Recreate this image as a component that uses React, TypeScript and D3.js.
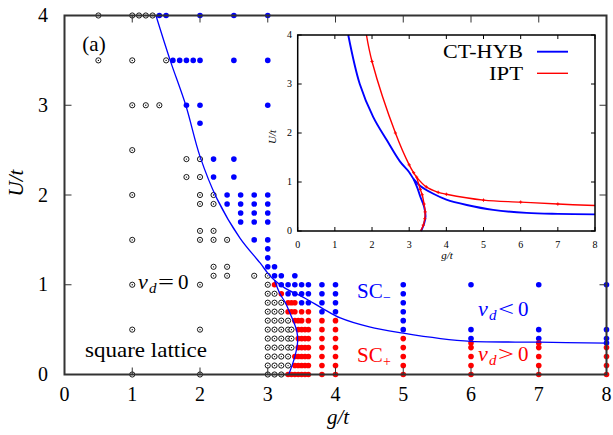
import * as d3 from "d3";
import { useEffect, useRef } from "react";

type Pt = [number, number];

const xTicks = [0, 1, 2, 3, 4, 5, 6, 7, 8];
const yTicks = [0, 1, 2, 3, 4];

// nu_d = 0 (open circles)
const zeroPts: Pt[] = [
    [0.5, 4], [1, 4], [1.1, 4], [1.2, 4], [1.3, 4],
    [0.5, 3.5], [1, 3.5], [1.5, 3.5],
    [1, 3], [1.2, 3], [1.4, 3],
    [1, 2.5],
    [1.8, 2.4], [2, 2.4], [1.8, 2.2], [2, 2.2],
    [1, 2], [2, 2], [2.2, 2], [2, 1.9], [2.2, 1.9],
    [2, 1.6], [2.2, 1.6],
    [1, 1.5], [2, 1.5], [2.2, 1.5], [2.4, 1.5],
    [2.2, 1.2], [2.4, 1.2],
    [2.2, 1.1], [2.4, 1.1], [2.8, 1.1], [3, 1.1],
    [1, 1], [2, 1], [3, 1],
    [3, 0.9], [3.1, 0.9],
    [3, 0.8], [3.1, 0.8], [3.2, 0.8],
    [3, 0.7], [3.1, 0.7], [3.2, 0.7],
    [3, 0.6], [3.1, 0.6], [3.2, 0.6], [3.3, 0.6],
    [1, 0.5], [2, 0.5], [3, 0.5], [3.1, 0.5], [3.2, 0.5], [3.3, 0.5], [3.35, 0.5],
    [3, 0.4], [3.1, 0.4], [3.2, 0.4], [3.3, 0.4], [3.35, 0.4],
    [3, 0.3], [3.1, 0.3], [3.2, 0.3], [3.3, 0.3], [3.35, 0.3],
    [3, 0.2], [3.1, 0.2], [3.2, 0.2], [3.3, 0.2],
    [3, 0.1], [3.1, 0.1], [3.2, 0.1], [3.3, 0.1],
    [1, 0], [2, 0], [3, 0], [3.1, 0], [3.2, 0]
];

// nu_d < 0 (blue)
const negPts: Pt[] = [
    [1.4, 4], [1.5, 4], [2, 4], [2.5, 4], [3, 4],
    [1.6, 3.5], [1.7, 3.5], [1.8, 3.5], [1.9, 3.5], [2, 3.5], [2.5, 3.5], [3, 3.5],
    [1.8, 3], [2, 3], [3, 3],
    [2, 2.8],
    [2.2, 2.4], [2.5, 2.4], [2.2, 2.2], [2.5, 2.2],
    [2.4, 2], [2.6, 2], [2.8, 2], [3, 2],
    [2.4, 1.9], [2.6, 1.9], [2.8, 1.9], [3, 1.9],
    [2.6, 1.8], [2.8, 1.8], [3, 1.8],
    [2.6, 1.7], [2.8, 1.7], [3, 1.7],
    [2.8, 1.5], [3, 1.5], [3, 1.4], [3, 1.3],
    [3, 1.2], [3.1, 1.2],
    [3.1, 1.1], [3.2, 1.1], [3.4, 1.1],
    [3.2, 1], [3.3, 1], [3.4, 1], [3.5, 1], [3.6, 1], [3.8, 1], [4, 1], [5, 1], [6, 1], [7, 1], [8, 1],
    [3.3, 0.9], [3.4, 0.9], [3.5, 0.9], [3.6, 0.9], [3.8, 0.9], [4, 0.9], [5, 0.9],
    [3.5, 0.8], [3.6, 0.8], [3.8, 0.8], [4, 0.8], [5, 0.8],
    [3.8, 0.7], [4, 0.7], [5, 0.7],
    [5, 0.6],
    [5, 0.5], [6, 0.5], [7, 0.5], [8, 0.5],
    [6, 0.4], [7, 0.4], [8, 0.4],
    [8, 0.35]
];

// nu_d > 0 (red)
const posPts: Pt[] = [
    [3.1, 1],
    [3.2, 0.9],
    [3.3, 0.8], [3.35, 0.8], [3.4, 0.8],
    [3.3, 0.7], [3.35, 0.7], [3.4, 0.7], [3.5, 0.7], [3.6, 0.7],
    [3.4, 0.6], [3.45, 0.6], [3.5, 0.6], [3.6, 0.6], [3.8, 0.6], [4, 0.6],
    [3.45, 0.5], [3.5, 0.5], [3.55, 0.5], [3.6, 0.5], [3.8, 0.5], [4, 0.5],
    [3.45, 0.4], [3.5, 0.4], [3.55, 0.4], [3.6, 0.4], [3.8, 0.4], [4, 0.4], [5, 0.4],
    [6, 0.35], [7, 0.35],
    [3.45, 0.3], [3.5, 0.3], [3.55, 0.3], [3.6, 0.3], [3.8, 0.3], [4, 0.3], [5, 0.3], [6, 0.3], [7, 0.3], [8, 0.3],
    [3.4, 0.2], [3.45, 0.2], [3.5, 0.2], [3.55, 0.2], [3.6, 0.2], [3.8, 0.2], [4, 0.2], [5, 0.2], [6, 0.2], [7, 0.2], [8, 0.2],
    [3.4, 0.1], [3.45, 0.1], [3.5, 0.1], [3.55, 0.1], [3.6, 0.1], [3.8, 0.1], [4, 0.1], [5, 0.1], [6, 0.1], [7, 0.1], [8, 0.1],
    [3.3, 0], [3.35, 0], [3.4, 0], [3.45, 0], [3.5, 0], [3.55, 0], [3.6, 0], [3.8, 0], [4, 0], [5, 0], [6, 0], [7, 0], [8, 0]
];

// phase boundary in the main panel
const mainUpper: Pt[] = [
    [1.35, 4], [1.56, 3.5], [1.79, 3.0], [2.0, 2.43], [2.25, 1.96], [2.59, 1.52], [2.89, 1.24],
    [3.0, 1.13], [3.1, 1.05], [3.26, 0.96], [3.55, 0.85], [3.8, 0.74], [4.07, 0.63], [4.5, 0.53],
    [5.0, 0.46], [5.55, 0.4], [6.0, 0.37], [7.0, 0.36], [8.0, 0.35]
];
const mainLower: Pt[] = [
    [3.1, 1.05], [3.18, 0.9], [3.26, 0.8], [3.33, 0.68], [3.43, 0.48], [3.44, 0.36], [3.4, 0.2], [3.31, 0]
];

// inset: CT-HYB
const ctUpper: Pt[] = [
    [1.36, 4], [1.67, 3.0], [2.03, 2.33], [2.4, 1.85], [2.75, 1.42], [3.0, 1.2], [3.12, 1.06],
    [3.3, 0.92], [3.65, 0.76], [4.0, 0.64], [4.55, 0.53], [5.26, 0.43], [6.16, 0.37], [7.0, 0.35], [8.0, 0.34]
];
const ctLower: Pt[] = [
    [3.12, 1.06], [3.22, 0.88], [3.3, 0.7], [3.4, 0.5], [3.44, 0.3], [3.4, 0.15], [3.32, 0]
];

// inset: IPT
const iptUpper: Pt[] = [
    [1.85, 4], [2.0, 3.46], [2.63, 2.0], [3.0, 1.35], [3.12, 1.19], [3.2, 1.1], [3.46, 0.9],
    [3.78, 0.79], [4.0, 0.75], [5.0, 0.63], [6.0, 0.59], [7.0, 0.55], [8.0, 0.52]
];
const iptLower: Pt[] = [
    [3.2, 1.1], [3.3, 0.85], [3.35, 0.74], [3.4, 0.55], [3.43, 0.39], [3.42, 0.25], [3.38, 0.12], [3.31, 0]
];

const W = 613;
const H = 435;
const FONT = "Liberation Serif, Times New Roman, DejaVu Serif, serif";
const BLUE = "#0000ff";
const RED = "#ff0000";

const App = () => {
    const chartRef = useRef<SVGSVGElement>(null);

    useEffect(() => {
        const svg = d3.select(chartRef.current);
        svg.selectAll("*").remove();
        svg.attr("font-family", FONT);

        // main panel scales
        const x = d3.scaleLinear().domain([0, 8]).range([64.5, 606.5]);
        const y = d3.scaleLinear().domain([0, 4]).range([374.5, 15.5]);

        svg.append("rect").attr("width", W).attr("height", H).attr("fill", "#fff");

        // points
        const gz = svg.append("g");
        zeroPts.forEach(d => {
            gz.append("circle")
                .attr("cx", x(d[0])).attr("cy", y(d[1])).attr("r", 2.6)
                .attr("fill", "#fff").attr("stroke", "#000").attr("stroke-width", 0.9);
            gz.append("circle")
                .attr("cx", x(d[0])).attr("cy", y(d[1])).attr("r", 0.65)
                .attr("fill", "#000");
        });

        svg.append("g")
            .selectAll("circle")
            .data(negPts)
            .enter()
            .append("circle")
            .attr("cx", d => x(d[0]))
            .attr("cy", d => y(d[1]))
            .attr("r", 2.8)
            .attr("fill", BLUE);

        svg.append("g")
            .selectAll("circle")
            .data(posPts)
            .enter()
            .append("circle")
            .attr("cx", d => x(d[0]))
            .attr("cy", d => y(d[1]))
            .attr("r", 2.8)
            .attr("fill", RED);

        // boundary curve
        const mainLine = d3.line<Pt>().x(d => x(d[0])).y(d => y(d[1])).curve(d3.curveCatmullRom);
        [mainUpper, mainLower].forEach(arr => {
            svg.append("path")
                .attr("d", mainLine(arr))
                .attr("fill", "none")
                .attr("stroke", BLUE)
                .attr("stroke-width", 1.3);
        });

        // frame and ticks
        const frameColor = "#333";
        svg.append("rect")
            .attr("x", x(0)).attr("y", y(4))
            .attr("width", x(8) - x(0)).attr("height", y(0) - y(4))
            .attr("fill", "none").attr("stroke", frameColor).attr("stroke-width", 2);

        const tl = 7;
        xTicks.forEach(t => {
            svg.append("line").attr("x1", x(t)).attr("x2", x(t)).attr("y1", y(0)).attr("y2", y(0) - tl)
                .attr("stroke", frameColor).attr("stroke-width", 1);
            svg.append("line").attr("x1", x(t)).attr("x2", x(t)).attr("y1", y(4)).attr("y2", y(4) + tl)
                .attr("stroke", frameColor).attr("stroke-width", 1);
            svg.append("text")
                .attr("x", x(t)).attr("y", 401)
                .attr("text-anchor", "middle")
                .attr("font-size", 20)
                .text(t);
        });
        yTicks.forEach(t => {
            svg.append("line").attr("x1", x(0)).attr("x2", x(0) + tl).attr("y1", y(t)).attr("y2", y(t))
                .attr("stroke", frameColor).attr("stroke-width", 1);
            svg.append("line").attr("x1", x(8)).attr("x2", x(8) - tl).attr("y1", y(t)).attr("y2", y(t))
                .attr("stroke", frameColor).attr("stroke-width", 1);
            svg.append("text")
                .attr("x", 48).attr("y", y(t)).attr("dy", "0.33em")
                .attr("text-anchor", "end")
                .attr("font-size", 20)
                .text(t);
        });

        // axis titles
        svg.append("text")
            .attr("x", 338).attr("y", 424)
            .attr("text-anchor", "middle")
            .attr("font-size", 21).attr("font-style", "italic")
            .text("g/t");
        svg.append("text")
            .attr("transform", "translate(23,183) rotate(-90)")
            .attr("text-anchor", "middle")
            .attr("font-size", 21).attr("font-style", "italic")
            .text("U/t");

        // annotations
        const txt = (tx: number, ty: number, s: string, size: number, color = "#000", italic = false, anchor = "start") =>
            svg.append("text")
                .attr("x", tx).attr("y", ty)
                .attr("text-anchor", anchor)
                .attr("fill", color)
                .attr("font-size", size)
                .attr("font-style", italic ? "italic" : "normal")
                .text(s);

        txt(94, 51, "(a)", 21, "#000", false, "middle");
        txt(85, 357, "square lattice", 21).attr("textLength", 122).attr("lengthAdjust", "spacingAndGlyphs");

        const nuLabel = (nx: number, ny: number, op: string, color: string) => {
            txt(nx, ny, "\u03bd", 22, color, true);
            txt(nx + 11, ny + 4, "d", 15, color, true);
            txt(nx + 20, ny, op, 22, color).attr("textLength", 16).attr("lengthAdjust", "spacingAndGlyphs");
            txt(nx + 40, ny, "0", 21, color);
        };
        nuLabel(138, 289, "=", "#000");
        nuLabel(478, 316, "<", BLUE);
        nuLabel(478, 361, ">", RED);

        txt(357, 298, "SC", 21, BLUE);
        txt(383, 302, "\u2212", 14, BLUE);
        txt(357, 362, "SC", 21, RED);
        txt(383, 366, "+", 14, RED);

        // inset
        const ix = d3.scaleLinear().domain([0, 8]).range([297.7, 595]);
        const iy = d3.scaleLinear().domain([0, 4]).range([231, 35]);
        const inset = svg.append("g");

        inset.append("rect")
            .attr("x", ix(0)).attr("y", iy(4))
            .attr("width", ix(8) - ix(0)).attr("height", iy(0) - iy(4))
            .attr("fill", "#fff");

        const insetLine = d3.line<Pt>().x(d => ix(d[0])).y(d => iy(d[1])).curve(d3.curveCatmullRom);
        [ctUpper, ctLower].forEach(arr => {
            inset.append("path")
                .attr("d", insetLine(arr))
                .attr("fill", "none").attr("stroke", BLUE).attr("stroke-width", 1.9);
        });
        [iptUpper, iptLower].forEach(arr => {
            inset.append("path")
                .attr("d", insetLine(arr))
                .attr("fill", "none").attr("stroke", RED).attr("stroke-width", 1.4);
            inset.selectAll(null)
                .data(arr.slice(1, -1))
                .enter()
                .append("path")
                .attr("d", d => `M${ix(d[0]) - 1.6},${iy(d[1])}h3.2M${ix(d[0])},${iy(d[1]) - 1.6}v3.2`)
                .attr("stroke", RED).attr("stroke-width", 1);
        });

        inset.append("rect")
            .attr("x", ix(0)).attr("y", iy(4))
            .attr("width", ix(8) - ix(0)).attr("height", iy(0) - iy(4))
            .attr("fill", "none").attr("stroke", "#000").attr("stroke-width", 1.5);

        const itl = 4;
        xTicks.forEach(t => {
            inset.append("line").attr("x1", ix(t)).attr("x2", ix(t)).attr("y1", iy(0)).attr("y2", iy(0) - itl)
                .attr("stroke", "#000").attr("stroke-width", 1);
            inset.append("line").attr("x1", ix(t)).attr("x2", ix(t)).attr("y1", iy(4)).attr("y2", iy(4) + itl)
                .attr("stroke", "#000").attr("stroke-width", 1);
            inset.append("text")
                .attr("x", ix(t)).attr("y", 248)
                .attr("text-anchor", "middle")
                .attr("font-size", 10)
                .text(t);
        });
        yTicks.forEach(t => {
            inset.append("line").attr("x1", ix(0)).attr("x2", ix(0) + itl).attr("y1", iy(t)).attr("y2", iy(t))
                .attr("stroke", "#000").attr("stroke-width", 1);
            inset.append("line").attr("x1", ix(8)).attr("x2", ix(8) - itl).attr("y1", iy(t)).attr("y2", iy(t))
                .attr("stroke", "#000").attr("stroke-width", 1);
            inset.append("text")
                .attr("x", 292).attr("y", iy(t)).attr("dy", "0.33em")
                .attr("text-anchor", "end")
                .attr("font-size", 10)
                .text(t);
        });
        inset.append("text")
            .attr("x", 447).attr("y", 259)
            .attr("text-anchor", "middle")
            .attr("font-size", 11).attr("font-style", "italic")
            .text("g/t");
        inset.append("text")
            .attr("transform", "translate(276,137) rotate(-90)")
            .attr("text-anchor", "middle")
            .attr("font-size", 11).attr("font-style", "italic")
            .text("U/t");

        // legend
        const legend = [
            { name: "CT-HYB", color: BLUE, width: 1.9, ly: 51.7 },
            { name: "IPT", color: RED, width: 1.4, ly: 73.3 }
        ];
        legend.forEach(l => {
            inset.append("text")
                .attr("x", 523).attr("y", l.ly + 6.5)
                .attr("text-anchor", "end")
                .attr("font-size", 19)
                .attr("textLength", l.name.length > 3 ? 80 : 34)
                .attr("lengthAdjust", "spacingAndGlyphs")
                .text(l.name);
            inset.append("line")
                .attr("x1", 537).attr("x2", 568).attr("y1", l.ly).attr("y2", l.ly)
                .attr("stroke", l.color).attr("stroke-width", l.width);
        });
    }, []);

    return (
        <div style={{ position: "absolute", left: 0, top: 0 }}>
            <svg ref={chartRef} width={W} height={H} style={{ display: "block" }} />
        </div>
    );
};

export default App;
